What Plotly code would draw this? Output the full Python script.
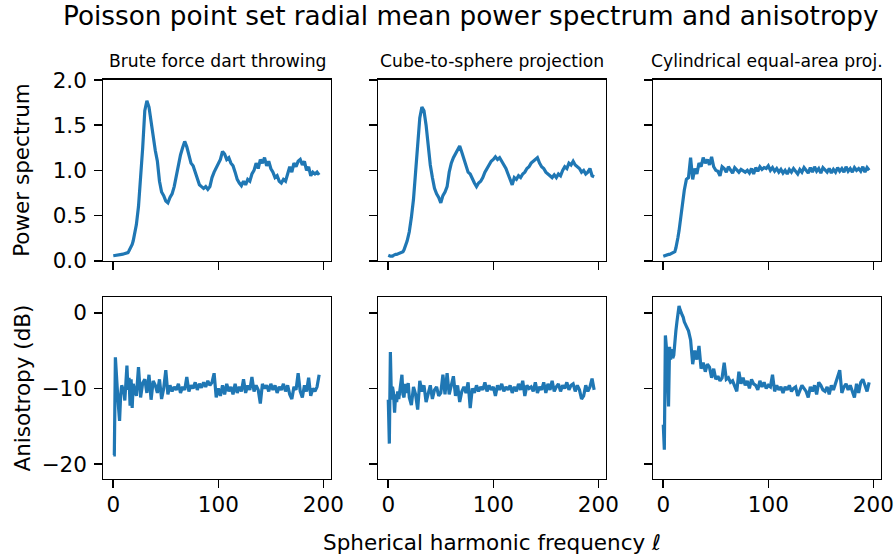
import plotly.graph_objects as go
from plotly.subplots import make_subplots

# spherical harmonic frequency (dense at low l, every 2nd l afterwards)
ell = list(range(0, 20)) + list(range(20, 198, 2))

titles = ["Brute force dart throwing", "Cube-to-sphere projection", "Cylindrical equal-area proj."]
xticks = [0, 100, 200]
yticks_power = [0.0, 0.5, 1.0, 1.5, 2.0]
yticks_aniso = [-20, -10, 0]

power_brute = [0.055, 0.058, 0.06, 0.06, 0.062, 0.063, 0.066, 0.068, 0.07, 0.072,
               0.075, 0.078, 0.08, 0.085, 0.09, 0.11, 0.13, 0.155, 0.18, 0.22,
               0.27, 0.40, 0.60, 0.88, 1.25, 1.66, 1.77, 1.70, 1.52, 1.35,
               1.22, 1.10, 0.88, 0.76, 0.72, 0.66, 0.64, 0.70, 0.74, 0.82,
               0.95, 1.05, 1.17, 1.25, 1.32, 1.26, 1.16, 1.08, 1.05, 0.98,
               0.92, 0.84, 0.82, 0.80, 0.82, 0.79, 0.82, 0.92, 0.98, 1.03,
               1.08, 1.12, 1.21, 1.18, 1.12, 1.14, 1.08, 1.05, 0.98, 0.90,
               0.86, 0.83, 0.88, 0.84, 0.90, 0.88, 0.96, 1.00, 1.08, 1.02,
               1.12, 1.08, 1.14, 1.05, 1.10, 1.02, 0.98, 0.92, 0.94, 0.88,
               0.86, 0.90, 0.88, 0.96, 1.04, 0.98, 1.08, 1.04, 1.10, 1.12,
               1.06, 1.10, 1.00, 1.04, 0.94, 0.98, 0.96, 0.98, 0.95]

power_cube = [0.06, 0.05, 0.05, 0.05, 0.05, 0.06, 0.07, 0.07, 0.07, 0.075,
              0.08, 0.085, 0.09, 0.095, 0.10, 0.12, 0.15, 0.18, 0.22, 0.27,
              0.32, 0.48, 0.68, 0.98, 1.32, 1.58, 1.70, 1.66, 1.50, 1.26,
              1.06, 0.92, 0.80, 0.74, 0.70, 0.64, 0.72, 0.76, 0.82, 0.98,
              1.08, 1.14, 1.18, 1.22, 1.27, 1.20, 1.12, 1.05, 0.98, 0.96,
              0.90, 0.86, 0.82, 0.86, 0.88, 0.92, 0.98, 1.02, 1.06, 1.10,
              1.12, 1.15, 1.12, 1.14, 1.10, 1.06, 1.02, 0.96, 0.90, 0.84,
              0.92, 0.90, 0.94, 0.92, 0.96, 0.98, 1.02, 1.04, 1.08, 1.10,
              1.12, 1.14, 1.08, 1.04, 1.02, 0.98, 0.96, 0.94, 0.92, 0.95,
              0.92, 0.96, 0.94, 1.00, 1.04, 1.02, 1.08, 1.06, 1.10, 1.06,
              1.04, 1.02, 0.98, 1.00, 0.96, 0.98, 1.02, 0.94, 0.93]

power_cyl = [0.05, 0.055, 0.06, 0.065, 0.07, 0.07, 0.07, 0.075, 0.08, 0.085,
             0.09, 0.10, 0.14, 0.19, 0.26, 0.33, 0.42, 0.52, 0.62, 0.70,
             0.78, 0.90, 0.92, 1.14, 0.90, 1.02, 0.96, 1.08, 1.04, 1.14,
             1.08, 1.12, 1.06, 1.15, 1.04, 1.00, 0.99, 0.94, 1.04, 1.02,
             0.98, 1.04, 1.00, 0.97, 1.03, 1.00, 0.98, 1.01, 0.99, 0.98,
             1.00, 0.97, 1.02, 0.96, 1.03, 0.99, 1.04, 1.01, 1.03, 1.02,
             1.05, 1.00, 1.03, 0.99, 1.02, 0.98, 1.01, 0.97, 1.00, 0.96,
             1.01, 0.98, 1.02, 0.99, 0.96, 1.01, 0.98, 1.03, 1.00, 0.97,
             1.03, 0.98, 1.04, 0.99, 1.02, 0.97, 1.03, 1.00, 0.98, 1.02,
             0.97, 1.01, 0.98, 1.03, 0.99, 1.02, 0.98, 1.04, 0.99, 1.02,
             0.98, 1.03, 1.00, 1.02, 0.99, 1.04, 0.98, 1.03, 1.00]

aniso_brute = [-18.8, -18.8, -5.9, -9.0, -10.5, -12.5, -14.3, -11.0, -9.6, -10.0,
               -10.4, -11.6, -9.5, -7.0, -10.2, -8.6, -12.3, -8.8, -12.6, -9.4,
               -10.0, -11.0, -7.2, -11.2, -9.3, -8.8, -10.6, -8.2, -11.5, -9.0,
               -9.6, -10.6, -8.8, -11.4, -10.0, -7.6, -10.8, -9.6, -10.4, -9.8,
               -10.2, -9.4, -10.6, -9.8, -10.2, -8.5, -10.4, -9.6, -10.0, -9.2,
               -10.2, -9.4, -9.9, -9.2, -9.8, -9.0, -9.6, -9.2, -8.0, -11.2,
               -10.0, -11.0, -9.6, -10.8, -9.4, -10.4, -9.8, -10.8, -9.4, -10.6,
               -9.8, -10.4, -8.8, -10.6, -9.6, -10.2, -8.5, -10.4, -9.6, -10.2,
               -12.0, -9.4, -10.0, -9.6, -10.4, -9.4, -10.2, -9.6, -10.6, -9.8,
               -10.2, -9.4, -10.4, -9.6, -10.8, -11.4, -9.8, -10.2, -8.0, -10.4,
               -11.2, -9.6, -10.4, -8.6, -11.0, -10.0, -10.4, -9.8, -8.2]

aniso_cube = [-11.5, -17.3, -5.2, -11.5, -9.8, -10.6, -13.2, -10.8, -11.8, -10.4,
              -11.4, -10.2, -9.6, -8.2, -10.8, -11.2, -9.4, -10.6, -10.0, -9.3,
              -11.2, -12.2, -9.8, -10.8, -12.8, -9.0, -10.4, -9.6, -11.8, -10.6,
              -9.6, -11.4, -10.2, -9.8, -11.0, -10.6, -8.2, -10.8, -8.0, -10.8,
              -9.4, -8.4, -11.0, -9.6, -11.8, -10.4, -9.8, -10.6, -9.2, -12.6,
              -10.0, -10.6, -9.6, -10.4, -9.8, -10.2, -9.2, -10.4, -9.6, -10.2,
              -9.8, -11.0, -9.6, -10.2, -9.4, -10.4, -9.8, -10.2, -9.6, -10.6,
              -9.8, -10.4, -9.4, -10.2, -9.0, -11.0, -9.6, -10.0, -9.8, -10.4,
              -9.2, -10.6, -9.8, -10.2, -9.2, -10.6, -9.4, -10.2, -9.0, -10.4,
              -9.8, -9.4, -10.4, -9.6, -10.0, -9.2, -10.2, -9.6, -9.4, -10.4,
              -9.6, -10.2, -11.4, -11.0, -9.6, -10.4, -9.8, -8.7, -10.2]

aniso_cyl = [-14.8, -18.1, -3.0, -4.6, -8.0, -12.4, -4.5, -6.2, -4.8, -6.0,
             -5.6, -3.6, -2.4, -1.2, -0.2, 0.9, 0.4, -0.1, -0.3, -0.6,
             -1.2, -1.8, -2.4, -3.6, -6.8, -5.0, -6.2, -4.4, -7.4, -6.6,
             -7.8, -6.8, -7.2, -8.6, -7.4, -8.8, -8.4, -9.0, -8.6, -6.6,
             -8.8, -8.6, -9.2, -9.0, -9.6, -10.4, -7.8, -9.4, -8.6, -9.6,
             -9.0, -10.0, -8.8, -9.4, -9.6, -10.2, -9.0, -9.8, -9.2, -10.0,
             -9.6, -9.8, -8.2, -10.4, -9.6, -10.2, -9.8, -10.6, -9.8, -10.2,
             -9.6, -10.4, -10.0, -9.8, -11.0, -10.2, -9.6, -10.0, -10.4, -11.2,
             -9.8, -10.4, -9.6, -10.8, -9.2, -9.6, -10.2, -10.4, -9.8, -10.8,
             -9.6, -10.2, -9.4, -8.4, -7.6, -10.6, -9.8, -9.4, -10.2, -9.6,
             -10.4, -11.2, -9.4, -10.6, -9.2, -8.8, -9.6, -10.4, -9.2]

series = [[power_brute, power_cube, power_cyl],
          [aniso_brute, aniso_cube, aniso_cyl]]

W, H = 896, 559
col_px = [(103.3, 330.7), (378.3, 605.7), (653.3, 880.7)]
row_px = [(80.0, 260.7), (297.3, 478.7)]

fig = make_subplots(rows=2, cols=3)
for r in range(2):
    for c in range(3):
        fig.add_trace(go.Scatter(x=ell, y=series[r][c], mode="lines",
                                 line=dict(color="#1f77b4", width=3.2),
                                 showlegend=False, hoverinfo="skip"),
                      row=r + 1, col=c + 1)

FONT = "DejaVu Sans"
axis_common = dict(showline=True, mirror=True, linecolor="black", linewidth=1.6,
                   ticks="outside", ticklen=7.5, tickwidth=1.6, tickcolor="black",
                   showgrid=False, zeroline=False, automargin=False,
                   tickfont=dict(family=FONT, size=21.5, color="black"))

for r in range(2):
    for c in range(3):
        x0, x1 = col_px[c]
        y0, y1 = row_px[r]
        fig.update_xaxes(domain=[x0 / W, x1 / W], range=[-9.5, 207],
                         tickvals=xticks, ticktext=[str(v) for v in xticks],
                         showticklabels=(r == 1), ticklabelstandoff=-2,
                         row=r + 1, col=c + 1, **axis_common)
        if r == 0:
            yr, yt = [0, 2], yticks_power
            ytxt = [f"{v:.1f}" for v in yt]
        else:
            yr, yt = [-21.94, 2.04], yticks_aniso
            ytxt = [str(v).replace("-", "\u2212") for v in yt]
        fig.update_yaxes(domain=[1 - y1 / H, 1 - y0 / H], range=yr,
                         tickvals=yt, ticktext=ytxt,
                         showticklabels=(c == 0), ticklabelstandoff=3,
                         row=r + 1, col=c + 1, **axis_common)

ann = []
ann.append(dict(text="Poisson point set radial mean power spectrum and anisotropy",
                x=470.5 / W, y=1 - 16.1 / H, xref="paper", yref="paper",
                showarrow=False, xanchor="center", yanchor="middle",
                font=dict(family=FONT, size=26.3, color="black")))
for c in range(3):
    x0, x1 = col_px[c]
    ann.append(dict(text=titles[c], x=(x0 + x1) / 2 / W, y=1 - 61 / H,
                    xref="paper", yref="paper", showarrow=False,
                    xanchor="center", yanchor="middle",
                    font=dict(family=FONT, size=17.2, color="black")))
for r, lab in enumerate(["Power spectrum", "Anisotropy (dB)"]):
    y0, y1 = row_px[r]
    ann.append(dict(text=lab, x=21.5 / W, y=1 - (y0 + y1) / 2 / H,
                    xref="paper", yref="paper", showarrow=False, textangle=-90,
                    xanchor="center", yanchor="middle",
                    font=dict(family=FONT, size=21.5, color="black")))
ann.append(dict(text="Spherical harmonic frequency \u2113",
                x=(col_px[0][0] + col_px[2][1]) / 2 / W, y=1 - 542.6 / H,
                xref="paper", yref="paper", showarrow=False,
                xanchor="center", yanchor="middle",
                font=dict(family=FONT, size=21.5, color="black")))

fig.update_layout(width=W, height=H,
                  margin=dict(l=0, r=0, t=0, b=0, pad=0, autoexpand=False),
                  paper_bgcolor="white", plot_bgcolor="white", showlegend=False,
                  hovermode=False,
                  annotations=ann, font=dict(family=FONT, color="black"))

fig.write_html("out.html",
               config={"displayModeBar": False, "staticPlot": True},
               post_script="document.body.style.margin='0px';"
                           "document.body.style.padding='0px';"
                           "document.body.style.overflow='hidden';")
